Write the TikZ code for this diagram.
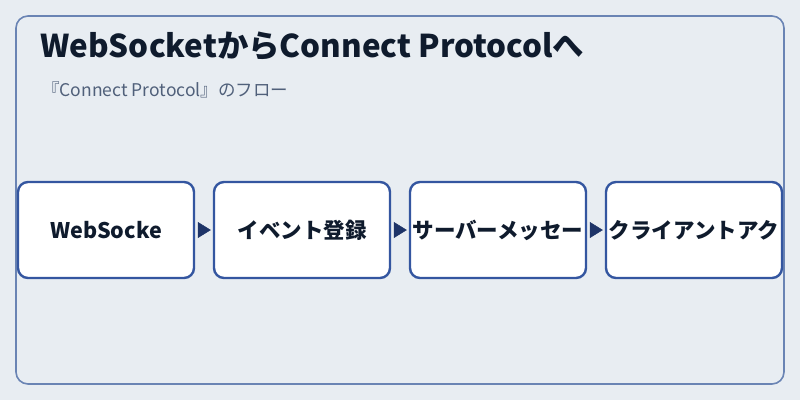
\documentclass[tikz,border=0pt]{standalone}
\usepackage{fontspec}
\setmainfont{Noto Sans CJK JP}
\usetikzlibrary{arrows.meta, positioning}
\definecolor{PageBg}{RGB}{232,237,242}
\definecolor{FrameLine}{RGB}{106,132,180}
\definecolor{StepLine}{RGB}{52,86,160}
\definecolor{TitleInk}{RGB}{15,27,45}
\definecolor{SubInk}{RGB}{80,96,122}
\definecolor{ArrowInk}{RGB}{30,52,104}

\begin{document}
\begin{tikzpicture}[x=1pt,y=-1pt,
        stepbox/.style={rectangle,rounded corners=10pt,draw=StepLine,fill=white,
                        line width=2.4pt,minimum width=176pt,minimum height=96pt,
                        inner sep=0pt,font=\bfseries\fontsize{21.5}{24}\selectfont,text=TitleInk},
        arr/.style={-{Triangle[length=13pt,width=16pt]},draw=ArrowInk,fill=ArrowInk,
                    shorten <=3pt,shorten >=2pt}
      ]
        \fill[PageBg] (0,0) rectangle (800,400);
        \useasboundingbox (0,0) rectangle (800,400);
        \draw[FrameLine,line width=1.6pt,rounded corners=12pt] (16,16) rectangle (784,384);
        \node[anchor=base west,inner sep=0pt,text=TitleInk,
              font=\bfseries\fontsize{31.4}{35}\selectfont] (title) at (40,57)
              {WebSocketからConnect Protocolへ};
        \node[anchor=base west,inner sep=0pt,text=SubInk,
              font=\fontsize{17.5}{21}\selectfont] (sub) at (42,96)
              {『Connect Protocol』のフロー};
        \node[stepbox] (ws) at (106,230) {WebSocke};
        \node[stepbox] (ev) at (302,230) {イベント登録};
        \node[stepbox] (msg) at (498,230) {サーバーメッセー};
        \node[stepbox] (cli) at (694,230) {クライアントアク};
        \draw[arr] (ws)--(ev);
        \draw[arr] (ev)--(msg);
        \draw[arr] (msg)--(cli);
      \end{tikzpicture}
\end{document}
